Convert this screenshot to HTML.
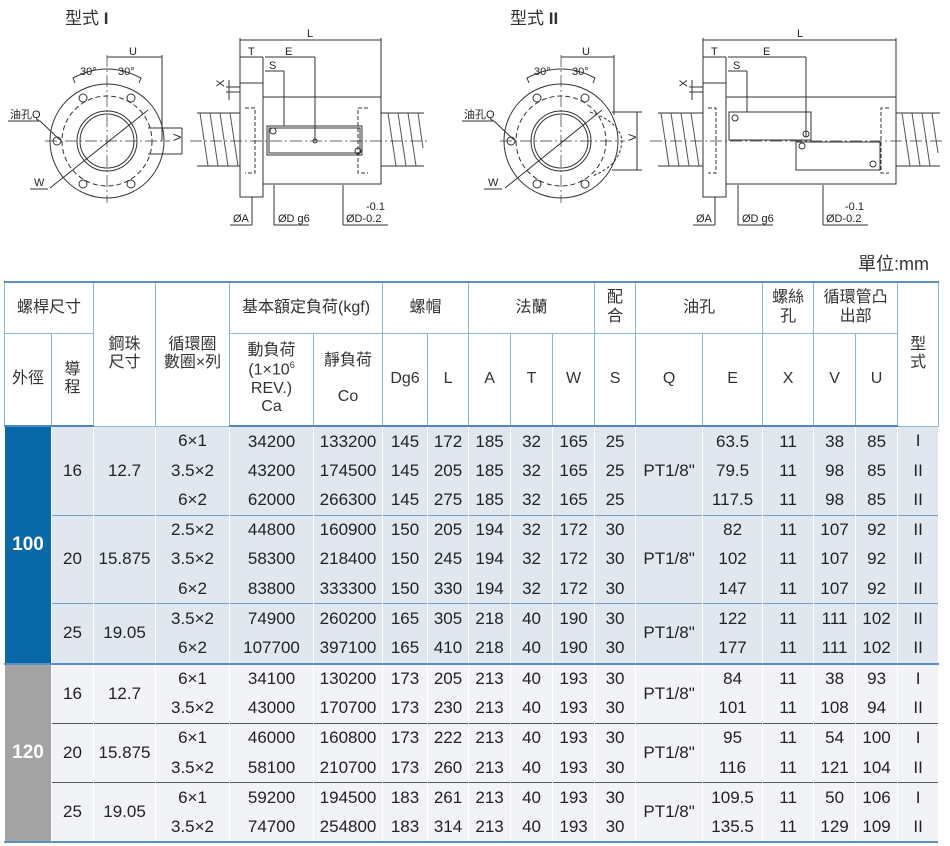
<!DOCTYPE html>
<html><head><meta charset="utf-8"><style>
body{margin:0;background:#fff;width:950px;height:846px;position:relative;overflow:hidden;font-family:"Liberation Sans","Noto Sans CJK TC",sans-serif;color:#222}
svg text{font-family:"Liberation Sans","Noto Sans CJK TC",sans-serif}
.unit{position:absolute;left:858px;top:250px;font-size:18px;color:#333}
table{position:absolute;left:4px;top:281px;border-collapse:collapse;table-layout:fixed;width:934px;font-size:17px}
td{padding:0;text-align:center;vertical-align:middle;line-height:1.15}
thead td{border:1px solid #8db6d8;background:#fff;font-size:16px;color:#333}
thead tr:first-child td{border-top:2px solid #5b91c2}
thead tr.h2 td{border-bottom:2px solid #4f88bd}
tbody td{border-left:1px solid #fff;border-right:1px solid #fff;height:29.2px;line-height:20px}
tbody tr.a td{background:#e1e7ef}
tbody tr.b td{background:#f1f3f6}
tbody tr.sa td{border-top:1px solid #6d9fcd}
tbody tr.sb td{border-top:1px solid #55585c}
tbody tr.gb td{border-top:2px solid #5b91c2}
td.g1{background:#0868a8!important;color:#fff;font-weight:bold;font-size:19px;vertical-align:top;padding-top:108px}
td.g2{background:#a3a3a3!important;color:#fff;font-weight:bold;font-size:19px}
.bl{position:absolute;left:4px;width:934px;top:841px;height:2px;background:#5b91c2}
</style></head><body>
<svg width="950" height="240" style="position:absolute;left:0;top:0" fill="none" stroke="#333" stroke-width="1">
<text x="65" y="24" font-size="17" fill="#333" stroke="none">型式 <tspan font-weight="bold">I</tspan></text>
<text x="510" y="24" font-size="17" fill="#333" stroke="none">型式 <tspan font-weight="bold">II</tspan></text>
<g>
<circle cx="107" cy="141" r="57"/>
<circle cx="107" cy="141" r="45" stroke-dasharray="5,3"/>
<circle cx="107" cy="141" r="30"/><circle cx="107" cy="141" r="27"/>
<line x1="45" y1="141" x2="170" y2="141" stroke-dasharray="12,3,2,3" stroke-width=".7"/>
<line x1="107" y1="55" x2="107" y2="203" stroke-dasharray="12,3,2,3" stroke-width=".7"/>
<line x1="50" y1="188" x2="148" y2="110"/>
<circle cx="83" cy="98" r="4"/><circle cx="131" cy="98" r="4"/><circle cx="83" cy="184" r="4"/><circle cx="131" cy="184" r="4"/><circle cx="57" cy="141" r="4"/>
<path d="M75 83 L73 78 Q107 60 141 78 L139 83"/>
<line x1="107" y1="57" x2="162" y2="57"/><line x1="162" y1="55" x2="162" y2="141"/>
<path d="M148 128 h34 M148 154 h34 M182 128 v26"/>
<text x="129" y="55" font-size="11" fill="#222" stroke="none">U</text>
<text x="80" y="75" font-size="11" fill="#222" stroke="none">30°</text>
<text x="118" y="75" font-size="11" fill="#222" stroke="none">30°</text>
<text x="177" y="145" font-size="11" fill="#222" stroke="none" transform="rotate(-90 177 141)">V</text>
<path d="M8 121 h32 L60 140"/><text x="10" y="118" font-size="11" fill="#222" stroke="none">油孔Q</text>
<path d="M30 189 h18"/><text x="34" y="186" font-size="11" fill="#222" stroke="none">W</text>
</g>
<g>
<path d="M197 113 h43 M197 166 h43 M381 113 h43 M381 166 h43" />
<path d="M200 113 l8 53 M210 113 l8 53 M220 113 l8 53 M230 113 l8 53 M388 113 l8 53 M398 113 l8 53 M408 113 l8 53 M418 113 l5 35" stroke="#555"/>
<rect x="240" y="83" width="23" height="114" fill="#fff"/>
<rect x="263" y="97" width="118" height="87" fill="#fff"/>
<rect x="267" y="126" width="95" height="29"/><rect x="269" y="128" width="91" height="25"/>
<circle cx="273" cy="131" r="3"/><circle cx="358" cy="151" r="3"/><circle cx="315" cy="141" r="2"/>
<path d="M245 108 h10 v65 h-10 M368 108 h-10 v65 h10" stroke-dasharray="4,2"/>
<line x1="190" y1="141" x2="428" y2="141" stroke-dasharray="12,3,2,3" stroke-width=".7"/>
<path d="M240 40 h141 M240 38 v45 M381 38 v59 M240 57 h23 M263 57 v40 M265 57 h50 M315 57 v84 M265 71 h19 M284 71 v55 M226 87 h14 M226 92 h14 M229 80 v20"/>
<text x="307" y="37" font-size="11" fill="#222" stroke="none">L</text>
<text x="248" y="55" font-size="11" fill="#222" stroke="none">T</text>
<text x="285" y="55" font-size="11" fill="#222" stroke="none">E</text>
<text x="269" y="69" font-size="11" fill="#222" stroke="none">S</text>
<text x="224" y="95" font-size="11" fill="#222" stroke="none" transform="rotate(-90 220 91)">X</text>
<path d="M252 197 v28 M230 225 h22 M274 185 v40 M274 225 h35 M343 185 v40 M343 225 h45"/>
<text x="233" y="222" font-size="11" fill="#222" stroke="none">ØA</text>
<text x="278" y="222" font-size="11" fill="#222" stroke="none">ØD g6</text>
<text x="366" y="210" font-size="11" fill="#222" stroke="none">-0.1</text>
<text x="346" y="222" font-size="11" fill="#222" stroke="none">ØD-0.2</text>
</g>
<g>
<circle cx="561" cy="141" r="57"/>
<circle cx="561" cy="141" r="45" stroke-dasharray="5,3"/>
<circle cx="561" cy="141" r="30"/><circle cx="561" cy="141" r="27"/>
<path d="M590 112 q30 10 32 29 q-2 25 -30 35" stroke-dasharray="3,2"/>
<line x1="500" y1="141" x2="625" y2="141" stroke-dasharray="12,3,2,3" stroke-width=".7"/>
<line x1="561" y1="55" x2="561" y2="203" stroke-dasharray="12,3,2,3" stroke-width=".7"/>
<line x1="505" y1="188" x2="602" y2="110"/>
<circle cx="537" cy="98" r="4"/><circle cx="585" cy="98" r="4"/><circle cx="537" cy="184" r="4"/><circle cx="585" cy="184" r="4"/><circle cx="511" cy="141" r="4"/>
<path d="M529 83 L527 78 Q561 60 595 78 L593 83"/>
<line x1="561" y1="57" x2="614" y2="57"/><line x1="614" y1="55" x2="614" y2="115"/>
<path d="M612 112 h30 M612 170 h30 M637 112 v58"/>
<text x="582" y="55" font-size="11" fill="#222" stroke="none">U</text>
<text x="534" y="75" font-size="11" fill="#222" stroke="none">30°</text>
<text x="572" y="75" font-size="11" fill="#222" stroke="none">30°</text>
<text x="632" y="145" font-size="11" fill="#222" stroke="none" transform="rotate(-90 632 141)">V</text>
<path d="M462 121 h32 L514 140"/><text x="464" y="118" font-size="11" fill="#222" stroke="none">油孔Q</text>
<path d="M484 189 h18"/><text x="488" y="186" font-size="11" fill="#222" stroke="none">W</text>
</g>
<g>
<path d="M658 113 h45 M658 166 h45 M896 113 h44 M896 166 h44"/>
<path d="M661 113 l8 53 M671 113 l8 53 M681 113 l8 53 M691 113 l8 53 M902 113 l8 53 M912 113 l8 53 M922 113 l8 53 M932 113 l6 40" stroke="#555"/>
<rect x="703" y="83" width="23" height="114" fill="#fff"/>
<rect x="726" y="97" width="170" height="87" fill="#fff"/>
<rect x="729" y="112" width="82" height="28"/><rect x="796" y="142" width="84" height="28"/>
<circle cx="735" cy="118" r="3"/><circle cx="806" cy="134" r="3"/><circle cx="802" cy="146" r="3"/><circle cx="873" cy="164" r="3"/>
<path d="M708 108 h8 v65 h-8 M889 108 h-8 v65 h8" stroke-dasharray="4,2"/>
<line x1="650" y1="141" x2="945" y2="141" stroke-dasharray="12,3,2,3" stroke-width=".7"/>
<path d="M703 40 h193 M703 38 v45 M896 38 v59 M703 57 h23 M726 57 v40 M728 57 h78 M806 57 v80 M728 71 h19 M747 71 v41 M689 87 h14 M689 92 h14 M692 80 v20"/>
<text x="797" y="37" font-size="11" fill="#222" stroke="none">L</text>
<text x="711" y="55" font-size="11" fill="#222" stroke="none">T</text>
<text x="763" y="55" font-size="11" fill="#222" stroke="none">E</text>
<text x="733" y="69" font-size="11" fill="#222" stroke="none">S</text>
<text x="687" y="95" font-size="11" fill="#222" stroke="none" transform="rotate(-90 683 91)">X</text>
<path d="M715 197 v28 M693 225 h22 M738 185 v40 M738 225 h35 M823 185 v40 M823 225 h45"/>
<text x="696" y="222" font-size="11" fill="#222" stroke="none">ØA</text>
<text x="742" y="222" font-size="11" fill="#222" stroke="none">ØD g6</text>
<text x="845" y="210" font-size="11" fill="#222" stroke="none">-0.1</text>
<text x="826" y="222" font-size="11" fill="#222" stroke="none">ØD-0.2</text>
</g>
</svg>
<div class="unit">單位:mm</div>
<table>
<colgroup><col style="width:47px"><col style="width:42px"><col style="width:62px"><col style="width:74px"><col style="width:84px"><col style="width:69px"><col style="width:45px"><col style="width:41px"><col style="width:42px"><col style="width:42px"><col style="width:42px"><col style="width:41px"><col style="width:67px"><col style="width:60px"><col style="width:51px"><col style="width:42px"><col style="width:42px"><col style="width:41px"></colgroup>
<thead>
<tr style="height:51px"><td colspan="2">螺桿尺寸</td><td rowspan="2">鋼珠<br>尺寸</td><td rowspan="2">循環圈<br>數圈×列</td><td colspan="2">基本額定負荷(kgf)</td><td colspan="2">螺帽</td><td colspan="3">法蘭</td><td>配<br>合</td><td colspan="2">油孔</td><td>螺絲<br>孔</td><td colspan="2">循環管凸<br>出部</td><td rowspan="2">型<br>式</td></tr>
<tr class="h2" style="height:93px"><td>外徑</td><td>導<br>程</td><td>動負荷<br>(1×10<sup style="font-size:9px">6</sup><br>REV.)<br>Ca</td><td>靜負荷<br><br>Co</td><td>Dg6</td><td>L</td><td>A</td><td>T</td><td>W</td><td>S</td><td>Q</td><td>E</td><td>X</td><td>V</td><td>U</td></tr>
</thead>
<tbody>
<tr class="a"><td class="g1" rowspan="8">100</td><td rowspan="3">16</td><td rowspan="3">12.7</td><td>6×1</td><td>34200</td><td>133200</td><td>145</td><td>172</td><td>185</td><td>32</td><td>165</td><td>25</td><td rowspan="3">PT1/8"</td><td>63.5</td><td>11</td><td>38</td><td>85</td><td>I</td></tr>
<tr class="a"><td>3.5×2</td><td>43200</td><td>174500</td><td>145</td><td>205</td><td>185</td><td>32</td><td>165</td><td>25</td><td>79.5</td><td>11</td><td>98</td><td>85</td><td>II</td></tr>
<tr class="a"><td>6×2</td><td>62000</td><td>266300</td><td>145</td><td>275</td><td>185</td><td>32</td><td>165</td><td>25</td><td>117.5</td><td>11</td><td>98</td><td>85</td><td>II</td></tr>
<tr class="a sa"><td rowspan="3">20</td><td rowspan="3">15.875</td><td>2.5×2</td><td>44800</td><td>160900</td><td>150</td><td>205</td><td>194</td><td>32</td><td>172</td><td>30</td><td rowspan="3">PT1/8"</td><td>82</td><td>11</td><td>107</td><td>92</td><td>II</td></tr>
<tr class="a"><td>3.5×2</td><td>58300</td><td>218400</td><td>150</td><td>245</td><td>194</td><td>32</td><td>172</td><td>30</td><td>102</td><td>11</td><td>107</td><td>92</td><td>II</td></tr>
<tr class="a"><td>6×2</td><td>83800</td><td>333300</td><td>150</td><td>330</td><td>194</td><td>32</td><td>172</td><td>30</td><td>147</td><td>11</td><td>107</td><td>92</td><td>II</td></tr>
<tr class="a sa"><td rowspan="2">25</td><td rowspan="2">19.05</td><td>3.5×2</td><td>74900</td><td>260200</td><td>165</td><td>305</td><td>218</td><td>40</td><td>190</td><td>30</td><td rowspan="2">PT1/8"</td><td>122</td><td>11</td><td>111</td><td>102</td><td>II</td></tr>
<tr class="a"><td>6×2</td><td>107700</td><td>397100</td><td>165</td><td>410</td><td>218</td><td>40</td><td>190</td><td>30</td><td>177</td><td>11</td><td>111</td><td>102</td><td>II</td></tr>
<tr class="b gb"><td class="g2" rowspan="6">120</td><td rowspan="2">16</td><td rowspan="2">12.7</td><td>6×1</td><td>34100</td><td>130200</td><td>173</td><td>205</td><td>213</td><td>40</td><td>193</td><td>30</td><td rowspan="2">PT1/8"</td><td>84</td><td>11</td><td>38</td><td>93</td><td>I</td></tr>
<tr class="b"><td>3.5×2</td><td>43000</td><td>170700</td><td>173</td><td>230</td><td>213</td><td>40</td><td>193</td><td>30</td><td>101</td><td>11</td><td>108</td><td>94</td><td>II</td></tr>
<tr class="b sb"><td rowspan="2">20</td><td rowspan="2">15.875</td><td>6×1</td><td>46000</td><td>160800</td><td>173</td><td>222</td><td>213</td><td>40</td><td>193</td><td>30</td><td rowspan="2">PT1/8"</td><td>95</td><td>11</td><td>54</td><td>100</td><td>I</td></tr>
<tr class="b"><td>3.5×2</td><td>58100</td><td>210700</td><td>173</td><td>260</td><td>213</td><td>40</td><td>193</td><td>30</td><td>116</td><td>11</td><td>121</td><td>104</td><td>II</td></tr>
<tr class="b sb"><td rowspan="2">25</td><td rowspan="2">19.05</td><td>6×1</td><td>59200</td><td>194500</td><td>183</td><td>261</td><td>213</td><td>40</td><td>193</td><td>30</td><td rowspan="2">PT1/8"</td><td>109.5</td><td>11</td><td>50</td><td>106</td><td>I</td></tr>
<tr class="b"><td>3.5×2</td><td>74700</td><td>254800</td><td>183</td><td>314</td><td>213</td><td>40</td><td>193</td><td>30</td><td>135.5</td><td>11</td><td>129</td><td>109</td><td>II</td></tr>
</tbody>
</table>
<div class="bl"></div>
</body></html>
